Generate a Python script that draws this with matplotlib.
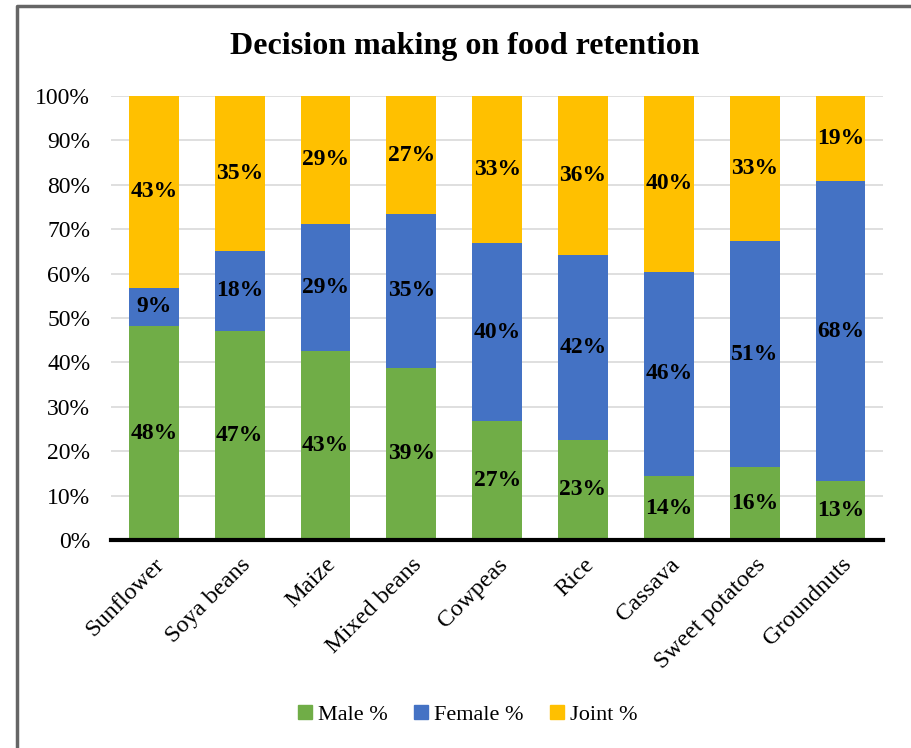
import numpy as np
import matplotlib.pyplot as plt
from matplotlib.lines import Line2D

plt.rcParams['font.family'] = ['Liberation Serif', 'DejaVu Serif']

crops = ['Sunflower', 'Soya beans', 'Maize', 'Mixed beans', 'Cowpeas',
         'Rice', 'Cassava', 'Sweet potatoes', 'Groundnuts']
male = [48.2, 47.1, 42.6, 38.8, 26.8, 22.6, 14.4, 16.4, 13.2]
female = [8.6, 18.0, 28.6, 34.6, 40.1, 41.6, 46.0, 50.9, 67.6]
joint = [43.2, 34.9, 28.8, 26.6, 33.1, 35.8, 39.6, 32.7, 19.2]

series = [('Male %', male, '#70AD47'),
          ('Female %', female, '#4472C4'),
          ('Joint %', joint, '#FFC000')]

fig = plt.figure(figsize=(9.11, 7.48), dpi=100)
ax = fig.add_axes([0.1218, 0.278, 0.848, 0.5937])

x = np.arange(len(crops))
bottom = np.zeros(len(crops))
for name, vals, col in series:
    vals = np.array(vals)
    ax.bar(x, vals, 0.58, bottom=bottom, color=col, label=name, zorder=2)
    for xi, b, v in zip(x, bottom, vals):
        ax.text(xi, b + v / 2, '{:.0f}%'.format(v), ha='center', va='center',
                fontsize=17, fontweight='bold', zorder=3)
    bottom += vals

ax.set_ylim(0, 100)
ax.set_xlim(-0.5, len(crops) - 0.5)
ax.set_yticks(np.arange(0, 101, 10))
ax.set_yticklabels(['{}%'.format(v) for v in range(0, 101, 10)], fontsize=17)
ax.set_xticks(x)
ax.set_xticklabels(crops, rotation=45, ha='right', va='top',
                   rotation_mode='anchor', fontsize=17.5)
ax.tick_params(length=0)
ax.tick_params(axis='y', pad=15)
ax.tick_params(axis='x', pad=10)
ax.yaxis.grid(True, color='#D9D9D9', linewidth=1.2, zorder=0)
ax.set_axisbelow(True)
for s in ['top', 'right', 'left']:
    ax.spines[s].set_visible(False)
ax.spines['bottom'].set_linewidth(3)
ax.spines['bottom'].set_zorder(4)

fig.text(0.51, 0.938, 'Decision making on food retention', ha='center',
         va='center', fontsize=23, fontweight='bold')

handles = [Line2D([], [], marker='s', linestyle='none', markersize=10,
                  markerfacecolor=c, markeredgecolor=c) for _, _, c in series]
fig.legend(handles, [n for n, _, _ in series], loc='center',
           bbox_to_anchor=(0.51, 0.045), ncol=3, frameon=False, fontsize=16,
           handletextpad=0.0, columnspacing=0.9, handlelength=1.2)

# outer chart frame
fig.add_artist(Line2D([17 / 911, 17 / 911, 1.0], [0.0, 1 - 6 / 748, 1 - 6 / 748],
                      transform=fig.transFigure, color='#666666', linewidth=2.5))

fig.savefig('out.png', dpi=100)
